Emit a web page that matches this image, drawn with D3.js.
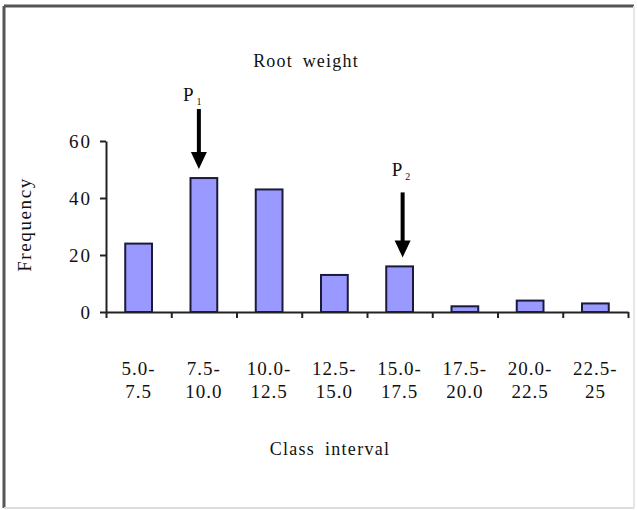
<!DOCTYPE html>
<html>
<head>
<meta charset="utf-8">
<script src="https://cdn.jsdelivr.net/npm/d3@7"></script>
<style>
  body { margin: 0; background: #fff; }
  svg text { font-family: "Liberation Serif", "Times New Roman", serif; fill: #111; }
</style>
</head>
<body>
<svg id="graph"></svg>
<script>
// donnees
const classes = ["5.0-|7.5", "7.5-|10.0", "10.0-|12.5", "12.5-|15.0", "15.0-|17.5", "17.5-|20.0", "20.0-|22.5", "22.5-|25"];
const frequences = [24, 47, 43, 13, 16, 2, 4, 3];
const yTicks = [0, 20, 40, 60];
const pics = ["1", "2"];        // indice du P
const picsClasse = [1, 4];      // classe pointee par la fleche

const largeur = 637, hauteur = 510;
const marge = { gauche: 106, droite: 9, haut: 141, bas: 198 };

const svg = d3.select("#graph")
  .attr("width", largeur)
  .attr("height", hauteur);

// cadre (haut/gauche sombre, bas/droite clair)
svg.append("line").attr("x1", 4).attr("y1", 6).attr("x2", 634).attr("y2", 6)
  .attr("stroke", "#555").attr("stroke-width", 3);
svg.append("line").attr("x1", 4).attr("y1", 6).attr("x2", 4).attr("y2", 508)
  .attr("stroke", "#555").attr("stroke-width", 3);
svg.append("line").attr("x1", 4).attr("y1", 508).attr("x2", 634).attr("y2", 508)
  .attr("stroke", "#ddd").attr("stroke-width", 2);
svg.append("line").attr("x1", 634).attr("y1", 6).attr("x2", 634).attr("y2", 508)
  .attr("stroke", "#e6e6e6").attr("stroke-width", 2);

const x = d3.scaleBand()
  .domain(d3.range(classes.length))
  .range([marge.gauche, largeur - marge.droite])
  .paddingInner(0.59)
  .paddingOuter(0.295);

const xTicks = d3.scaleLinear()
  .domain([0, classes.length])
  .range([marge.gauche, largeur - marge.droite]);

const y = d3.scaleLinear()
  .domain([0, 60])
  .range([hauteur - marge.bas, marge.haut]);

// barres
svg.selectAll("rect.barre")
  .data(frequences)
  .enter().append("rect")
  .attr("class", "barre")
  .attr("x", (d, i) => x(i))
  .attr("y", d => y(d))
  .attr("width", x.bandwidth())
  .attr("height", d => y(0) - y(d))
  .attr("fill", "#9999ff")
  .attr("stroke", "#1a1a3a")
  .attr("stroke-width", 2);

// axe y
const axeY = svg.append("g")
  .attr("transform", `translate(${marge.gauche},0)`)
  .call(d3.axisLeft(y).tickValues(yTicks).tickSize(6).tickSizeOuter(0).tickPadding(8));
axeY.select(".domain").attr("stroke", "#222").attr("stroke-width", 2);
axeY.selectAll(".tick line").attr("stroke", "#222").attr("stroke-width", 2);
axeY.selectAll(".tick text")
  .style("font-size", "19px")
  .style("letter-spacing", "2px")
  .style("font-family", "'Liberation Serif', serif")
  .attr("fill", "#111");

// axe x (graduations aux limites des classes)
const axeX = svg.append("g")
  .attr("transform", `translate(0,${y(0)})`)
  .call(d3.axisBottom(xTicks).tickValues(d3.range(classes.length + 1)).tickFormat("").tickSize(6).tickSizeOuter(0));
axeX.select(".domain").attr("stroke", "#222").attr("stroke-width", 2);
axeX.selectAll(".tick line").attr("stroke", "#222").attr("stroke-width", 2);

// etiquettes des classes sur deux lignes
const etiquettes = svg.selectAll("text.classe")
  .data(classes)
  .enter().append("text")
  .attr("class", "classe")
  .attr("text-anchor", "middle")
  .style("font-size", "19px")
  .style("letter-spacing", "1px");
etiquettes.each(function (d, i) {
  const lignes = d.split("|");
  const cx = x(i) + x.bandwidth() / 2;
  lignes.forEach((l, k) => {
    d3.select(this).append("tspan")
      .attr("x", cx)
      .attr("y", 375 + k * 23)
      .text(l);
  });
});

// titres
svg.append("text")
  .attr("x", 306).attr("y", 67)
  .attr("text-anchor", "middle")
  .style("font-size", "18px")
  .style("letter-spacing", "1.2px")
  .style("word-spacing", "4px")
  .text("Root weight");

svg.append("text")
  .attr("x", 330).attr("y", 455)
  .attr("text-anchor", "middle")
  .style("font-size", "18px")
  .style("letter-spacing", "1.3px")
  .style("word-spacing", "4px")
  .text("Class interval");

svg.append("text")
  .attr("transform", `translate(31,${(y(0) + y(60)) / 2 - 2}) rotate(-90)`)
  .attr("text-anchor", "middle")
  .style("font-size", "19px")
  .style("letter-spacing", "1.6px")
  .text("Frequency");

// fleches P1 et P2
const decalage = [-5, 3];
const longueur = [60, 65];
const ecartTexte = [8, 16];
const decalageTexte = [-16, -11];
pics.forEach((p, k) => {
  const i = picsClasse[k];
  const ax = x(i) + x.bandwidth() / 2 + decalage[k];
  const pointe = y(frequences[i]) - 9;
  const debut = pointe - longueur[k];
  svg.append("line")
    .attr("x1", ax).attr("y1", debut)
    .attr("x2", ax).attr("y2", pointe - 14)
    .attr("stroke", "#000").attr("stroke-width", 4);
  svg.append("path")
    .attr("d", `M${ax - 8},${pointe - 17} L${ax + 8},${pointe - 17} L${ax},${pointe} Z`)
    .attr("fill", "#000");
  const t = svg.append("text")
    .attr("x", ax + decalageTexte[k]).attr("y", debut - ecartTexte[k])
    .style("font-size", "19px");
  t.append("tspan").text("P");
  t.append("tspan").attr("dx", 3).attr("dy", 4).style("font-size", "10px").text(p);
});
</script>
</body>
</html>
